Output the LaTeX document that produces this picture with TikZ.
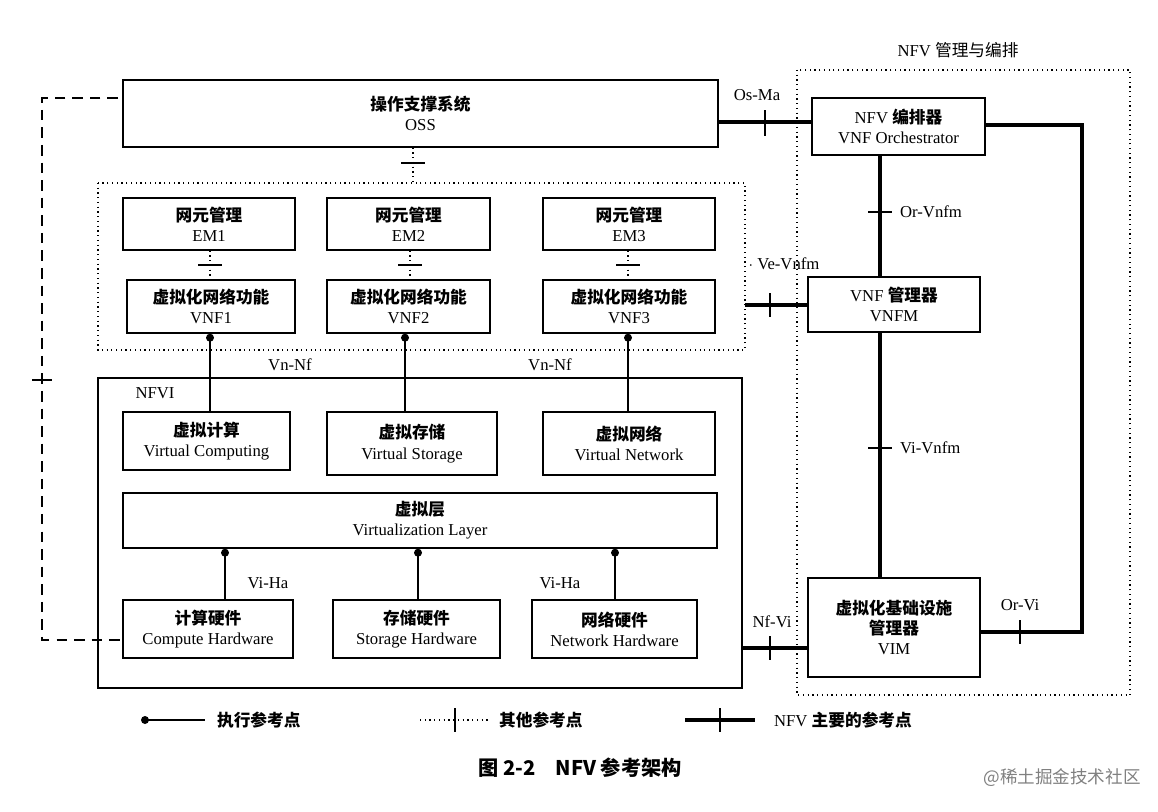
\documentclass[tikz,border=0pt]{standalone}
\usepackage{fontspec}
\setmainfont{Liberation Serif}
\newfontfamily\zhf{Noto Sans CJK SC}
\newcommand{\zh}[1]{{\zhf #1}}
\newcommand{\zb}[1]{{\zhf\bfseries #1}}
\begin{document}
\begin{tikzpicture}[x=0.02cm,y=-0.02cm,
 box/.style={draw,line width=0.8pt,align=center,font=\fontsize{9.5}{11.5}\selectfont,inner sep=0pt},
 lbl/.style={font=\fontsize{9.5}{11}\selectfont,inner sep=1pt},
 thk/.style={line width=2.4pt},
 dot/.style={dotted,line width=0.7pt},
 exe/.style={line width=0.9pt},
 tk/.style={line width=0.8pt}]
\useasboundingbox (0,0) rectangle (1158,811);
\newcommand{\bx}[4]{\node[box,minimum width=#3*0.02cm,minimum height=#4*0.02cm] at (#1,#2)}
% frames
\draw[dot] (797,70) rectangle (1130,695);
\node[lbl] (ttl) at (958,50) {NFV \zh{管理与编排}};
\draw[dot] (98,183) rectangle (745,350);
\draw[line width=0.8pt] (98,378) rectangle (742,688);
\node[lbl] (nfvi) at (155,393) {NFVI};
% boxes
\bx{420.5}{113.5}{595}{67} (oss) {\zb{操作支撑系统}\\OSS};
\bx{898.5}{126.5}{173}{57} (orc) {NFV \zb{编排器}\\VNF Orchestrator};
\bx{894}{304.5}{172}{55} (vnfm) {VNF \zb{管理器}\\VNFM};
\bx{894}{627.5}{172}{99} (vim) {\zb{虚拟化基础设施}\\\zb{管理器}\\VIM};
\bx{209}{224}{172}{52} (em1) {\zb{网元管理}\\EM1};
\bx{408.5}{224}{163}{52} (em2) {\zb{网元管理}\\EM2};
\bx{629}{224}{172}{52} (em3) {\zb{网元管理}\\EM3};
\bx{211}{306.5}{168}{53} (vnf1) {\zb{虚拟化网络功能}\\VNF1};
\bx{408.5}{306.5}{163}{53} (vnf2) {\zb{虚拟化网络功能}\\VNF2};
\bx{629}{306.5}{172}{53} (vnf3) {\zb{虚拟化网络功能}\\VNF3};
\bx{206.5}{441}{167}{58} (vc) {\zb{虚拟计算}\\Virtual Computing};
\bx{412}{443.5}{170}{63} (vs) {\zb{虚拟存储}\\Virtual Storage};
\bx{629}{443.5}{172}{63} (vn) {\zb{虚拟网络}\\Virtual Network};
\bx{420}{520.5}{594}{55} (vl) {\zb{虚拟层}\\Virtualization Layer};
\bx{208}{629}{170}{58} (ch) {\zb{计算硬件}\\Compute Hardware};
\bx{416.5}{629}{167}{58} (sh) {\zb{存储硬件}\\Storage Hardware};
\bx{614.5}{629}{165}{58} (nh) {\zb{网络硬件}\\Network Hardware};
% coordinates
\coordinate (dl1) at (118,98); \coordinate (dl2) at (42,98);
\coordinate (dl3) at (42,640);
\coordinate (vbR) at (745,305);
\coordinate (nfR) at (742,648);
\coordinate (vbT) at (413,183);
\coordinate (c1) at (1082,125); \coordinate (c2) at (1082,632);
% dashed OSS-hardware
\draw[dash pattern=on 6pt off 4pt,line width=0.8pt] (dl1) -- (dl2) -- (dl3) -- (ch.west |- dl3);
\draw[tk] (32,380) -- (52,380);
% Os-Ma
\draw[thk] (oss.east |- 0,122) -- (orc.west |- 0,122);
\draw[tk] (765,110) -- (765,136);
\node[lbl] at (757,95) {Os-Ma};
% Or-Vi
\draw[thk] (orc.east |- c1) -- (c1) -- (c2) -- (vim.east |- c2);
\draw[tk] (1020,620) -- (1020,644);
\node[lbl] at (1020,605) {Or-Vi};
% Or-Vnfm
\draw[thk] (orc.south -| 880,0) -- (vnfm.north -| 880,0);
\draw[tk] (868,212) -- (892,212);
\node[lbl,anchor=west] at (898,212) {Or-Vnfm};
% Vi-Vnfm
\draw[thk] (vnfm.south -| 880,0) -- (vim.north -| 880,0);
\draw[tk] (868,448) -- (892,448);
\node[lbl,anchor=west] at (898,448) {Vi-Vnfm};
% Ve-Vnfm
\draw[thk] (vbR) -- (vnfm.west |- vbR);
\draw[tk] (770,293) -- (770,317);
\node[lbl] at (784,264) {$\cdot$ Ve-Vnfm};
% Nf-Vi
\draw[thk] (nfR) -- (vim.west |- nfR);
\draw[tk] (770,636) -- (770,660);
\node[lbl] at (772,622) {Nf-Vi};
% OSS to VNF area
\draw[dot] (oss.south -| vbT) -- (vbT);
\draw[tk] (401,163) -- (425,163);
% EM-VNF
\foreach \a/\b/\x in {em1/vnf1/210,em2/vnf2/410,em3/vnf3/628}{
 \draw[dot] (\a.south -| \x,0) -- (\b.north -| \x,0);
 \draw[tk] (\x-12,265) -- (\x+12,265);}
% Vn-Nf
\foreach \a/\b/\x in {vnf1/vc/210,vnf2/vs/405,vnf3/vn/628}{
 \draw[exe] (\a.south -| \x,0) -- (\b.north -| \x,0);
 \fill (\a.south -| \x,0) ++(0,4) circle (4);}
\node[lbl] at (290,365) {Vn-Nf};
\node[lbl] at (550,365) {Vn-Nf};
% Vi-Ha
\foreach \b/\x in {ch/225,sh/418,nh/615}{
 \draw[exe] (vl.south -| \x,0) -- (\b.north -| \x,0);
 \fill (vl.south -| \x,0) ++(0,4) circle (4);}
\node[lbl] at (268,583) {Vi-Ha};
\node[lbl] at (560,583) {Vi-Ha};
% legend
\coordinate (la) at (145,720); \coordinate (lb) at (205,720);
\draw[exe] (la) -- (lb); \fill (la) circle (4);
\node[lbl,anchor=west] at (215,720) {\zb{执行参考点}};
\coordinate (lc) at (420,720); \coordinate (ld) at (490,720);
\draw[dot] (lc) -- (ld); \draw[tk] (455,708) -- (455,732);
\node[lbl,anchor=west] at (497,720) {\zb{其他参考点}};
\coordinate (le) at (685,720); \coordinate (lf) at (755,720);
\draw[thk] (le) -- (lf); \draw[tk] (720,708) -- (720,732);
\node[lbl,anchor=west] at (772,720) {NFV \zb{主要的参考点}};
\node[font=\zhf\bfseries\fontsize{11.5}{13}\selectfont] at (580,768) {图 2-2\quad NFV 参考架构};
\node[font=\zhf\fontsize{10}{12}\selectfont,text=gray] at (1062,778) {@稀土掘金技术社区};
\end{tikzpicture}
\end{document}
